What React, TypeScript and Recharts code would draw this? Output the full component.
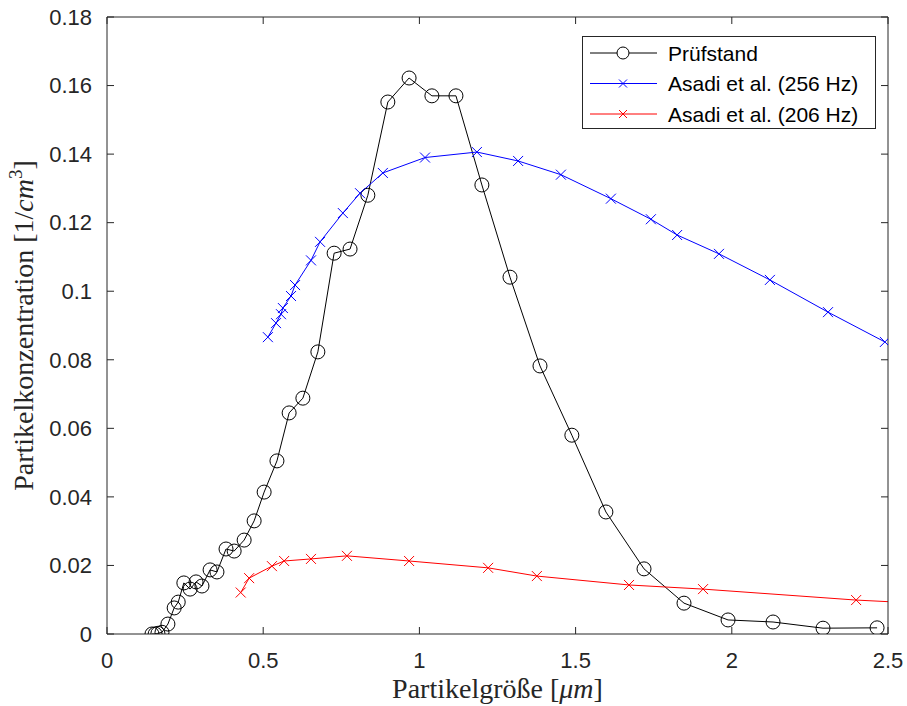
import { LineChart, Line, XAxis, YAxis, Legend, Label } from "recharts";

// Prüfstand (black, circles)
const pruefX = [
  0.144, 0.154, 0.163, 0.176, 0.195, 0.215, 0.228, 0.246, 0.266, 0.285, 0.304, 0.33, 0.352, 0.381,
  0.407, 0.439, 0.471, 0.503, 0.544, 0.583, 0.627, 0.675, 0.727, 0.778, 0.835, 0.899, 0.967, 1.04,
  1.117, 1.2, 1.29, 1.386, 1.488, 1.597, 1.719, 1.847, 1.988, 2.132, 2.292, 2.465,
];
const pruefY = [
  0.0, 0.0, 0.0002, 0.0005, 0.0029, 0.0076, 0.0093, 0.0149, 0.0131, 0.0152, 0.014, 0.0187, 0.0181,
  0.0248, 0.0242, 0.0274, 0.033, 0.0414, 0.0505, 0.0645, 0.0688, 0.0823, 0.1111, 0.1123, 0.128,
  0.1552, 0.1622, 0.157, 0.157, 0.131, 0.1041, 0.0782, 0.058, 0.0356, 0.019, 0.009, 0.0041, 0.0035,
  0.0017, 0.0018,
];

// Asadi et al. (256 Hz), blue
const asadi256X = [
  0.515, 0.541, 0.557, 0.563, 0.589, 0.602, 0.653, 0.682, 0.755, 0.81, 0.883, 1.018, 1.184, 1.316,
  1.453, 1.613, 1.741, 1.825, 1.959, 2.122, 2.308, 2.49,
];
const asadi256Y = [
  0.0866, 0.0907, 0.0933, 0.0951, 0.0986, 0.1018, 0.109, 0.1144, 0.1228, 0.1286, 0.1345, 0.139,
  0.1406, 0.138, 0.134, 0.127, 0.121, 0.1164, 0.1109, 0.1033, 0.0939, 0.0852,
];

// Asadi et al. (206 Hz), red (last point lies beyond the axis and is clipped)
const asadi206X = [
  0.428, 0.455, 0.528, 0.567, 0.653, 0.768, 0.967, 1.22, 1.376, 1.671, 1.908, 2.398, 2.9,
];
const asadi206Y = [
  0.0121, 0.0163, 0.0198, 0.0213, 0.0219, 0.0228, 0.0213, 0.0193, 0.0169, 0.0143, 0.0131, 0.0099,
  0.0076,
];

const xTicks = [0, 0.5, 1, 1.5, 2, 2.5];
const yTicks = [0, 0.02, 0.04, 0.06, 0.08, 0.1, 0.12, 0.14, 0.16, 0.18];

const seriesNames = ["Prüfstand", "Asadi et al. (256 Hz)", "Asadi et al. (206 Hz)"];
const seriesColors = ["#000000", "#0000ff", "#ff0000"];

const zip = (xs: number[], ys: number[]) => xs.map((x, i) => ({ x, y: ys[i] }));
const pruefData = zip(pruefX, pruefY);
const asadi256Data = zip(asadi256X, asadi256Y);
const asadi206Data = zip(asadi206X, asadi206Y);

const AXIS = "#262626";
const sans = "Liberation Sans, Arial, sans-serif";
const serif = "Liberation Serif, Times New Roman, serif";
const tickFont = { fontSize: 22, fill: AXIS, fontFamily: sans };

const circleDot = (p: any) => (
  <circle key={`c-${p.index}`} cx={p.cx} cy={p.cy} r={7} fill="none" stroke="#000" strokeWidth={1} />
);

const crossDot = (color: string) => (p: any) => {
  if (p.cx == null || p.cy == null) return <g key={`x-${p.index}`} />;
  const s = 5;
  return (
    <path
      key={`x-${p.index}`}
      d={`M${p.cx - s},${p.cy - s}L${p.cx + s},${p.cy + s}M${p.cx - s},${p.cy + s}L${p.cx + s},${p.cy - s}`}
      stroke={color}
      strokeWidth={1}
      fill="none"
    />
  );
};

const renderLegend = () => (
  <svg width={294} height={93} style={{ display: "block" }}>
    <rect x={0.5} y={0.5} width={293} height={92} fill="#fff" stroke={AXIS} strokeWidth={1} />
    {seriesNames.map((name, i) => {
      const cy = 17 + i * 30.5;
      const color = seriesColors[i];
      return (
        <g key={name}>
          <line x1={8} x2={75} y1={cy} y2={cy} stroke={color} strokeWidth={1} />
          {i === 0 ? (
            <circle cx={41} cy={cy} r={6} fill="#fff" stroke={color} strokeWidth={1} />
          ) : (
            <path d={`M37,${cy - 4}L45,${cy + 4}M37,${cy + 4}L45,${cy - 4}`} stroke={color} strokeWidth={1} />
          )}
          <text x={86} y={cy + 7.5} fontSize={21} fill="#000" fontFamily={sans}>
            {name}
          </text>
        </g>
      );
    })}
  </svg>
);

const yLabel = (props: any) => {
  const vb = props.viewBox;
  const x = vb.x + vb.width - 74;
  const y = vb.y + vb.height / 2;
  return (
    <text
      x={x}
      y={y}
      transform={`rotate(-90, ${x}, ${y})`}
      textAnchor="middle"
      fontSize={28}
      fontFamily={serif}
      fill={AXIS}
    >
      <tspan>Partikelkonzentration [1/</tspan>
      <tspan fontStyle="italic">cm</tspan>
      <tspan fontSize={19} dy={-11}>3</tspan>
      <tspan dy={11}>]</tspan>
    </text>
  );
};

const xLabel = (props: any) => {
  const vb = props.viewBox;
  return (
    <text x={vb.x + vb.width / 2} y={vb.y + 64} textAnchor="middle" fontSize={28} fontFamily={serif} fill={AXIS}>
      <tspan>Partikelgröße [</tspan>
      <tspan fontStyle="italic">μm</tspan>
      <tspan>]</tspan>
    </text>
  );
};

const fmt = (v: number) => String(Number(v.toFixed(2)));

export default function App() {
  return (
    <div style={{ position: "absolute", left: 0, top: 0, width: 907, height: 706, background: "#fff" }}>
      <LineChart width={907} height={706} margin={{ top: 16, right: 18, bottom: 71, left: 106 }}>
        <XAxis
          xAxisId="b"
          type="number"
          dataKey="x"
          domain={[0, 2.5]}
          ticks={xTicks}
          allowDataOverflow
          height={1}
          tickSize={-7}
          tickMargin={25}
          tick={tickFont}
          tickFormatter={fmt}
          axisLine={{ stroke: AXIS }}
          tickLine={{ stroke: AXIS }}
        >
          <Label content={xLabel} />
        </XAxis>
        <XAxis
          xAxisId="t"
          orientation="top"
          type="number"
          dataKey="x"
          domain={[0, 2.5]}
          ticks={xTicks}
          allowDataOverflow
          height={1}
          tickSize={-7}
          tickFormatter={() => ""}
          axisLine={{ stroke: AXIS }}
          tickLine={{ stroke: AXIS }}
        />
        <YAxis
          yAxisId="l"
          type="number"
          domain={[0, 0.18]}
          ticks={yTicks}
          allowDataOverflow
          width={1}
          tickSize={-7}
          tickMargin={22}
          tick={tickFont}
          tickFormatter={fmt}
          axisLine={{ stroke: AXIS }}
          tickLine={{ stroke: AXIS }}
        >
          <Label content={yLabel} />
        </YAxis>
        <YAxis
          yAxisId="r"
          orientation="right"
          type="number"
          domain={[0, 0.18]}
          ticks={yTicks}
          allowDataOverflow
          width={1}
          tickSize={-7}
          tickFormatter={() => ""}
          axisLine={{ stroke: AXIS }}
          tickLine={{ stroke: AXIS }}
        />
        <Line
          xAxisId="b"
          yAxisId="l"
          data={pruefData}
          dataKey="y"
          name={seriesNames[0]}
          type="linear"
          stroke={seriesColors[0]}
          strokeWidth={1}
          dot={circleDot}
          activeDot={false}
          isAnimationActive={false}
        />
        <Line
          xAxisId="b"
          yAxisId="l"
          data={asadi256Data}
          dataKey="y"
          name={seriesNames[1]}
          type="linear"
          stroke={seriesColors[1]}
          strokeWidth={1}
          dot={crossDot(seriesColors[1])}
          activeDot={false}
          isAnimationActive={false}
        />
        <Line
          xAxisId="b"
          yAxisId="l"
          data={asadi206Data}
          dataKey="y"
          name={seriesNames[2]}
          type="linear"
          stroke={seriesColors[2]}
          strokeWidth={1}
          dot={crossDot(seriesColors[2])}
          activeDot={false}
          isAnimationActive={false}
        />
        <Legend
          layout="horizontal"
          verticalAlign="middle"
          align="center"
          content={renderLegend}
          wrapperStyle={{ left: 582, top: 36, width: 294, height: 93 }}
        />
      </LineChart>
    </div>
  );
}
